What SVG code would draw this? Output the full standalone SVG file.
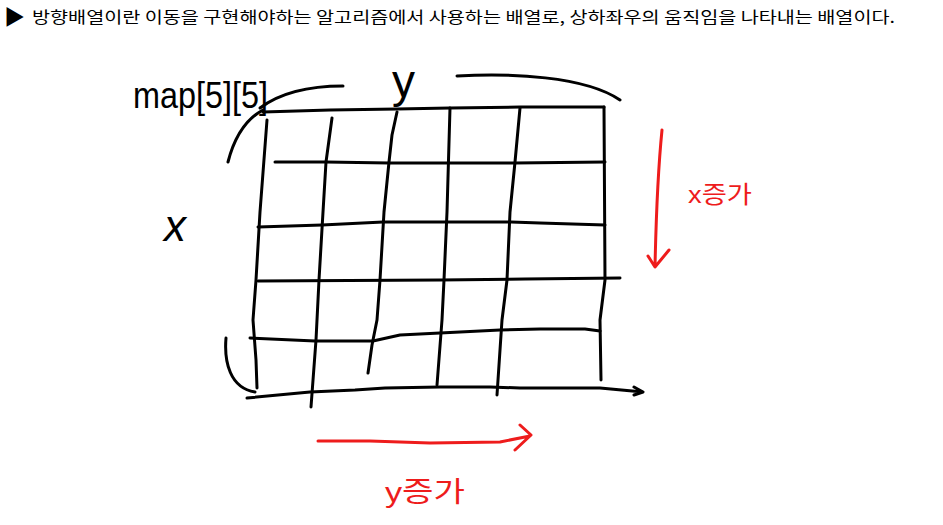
<svg xmlns="http://www.w3.org/2000/svg" width="943" height="525" viewBox="0 0 943 525">
<style>
.ink{fill:none;stroke:#000;stroke-width:3;stroke-linecap:round;stroke-linejoin:round}
.red{fill:none;stroke:#ee1c1c;stroke-width:3;stroke-linecap:round;stroke-linejoin:round}
.hdr{font-family:"Noto Sans CJK KR","Liberation Sans",sans-serif;font-size:16px;fill:#000}
.hand{font-family:"Liberation Sans","Noto Sans CJK KR",sans-serif;fill:#000}
.handr{font-family:"Liberation Sans","Noto Sans CJK KR",sans-serif;fill:#ee1c1c}
</style>
<rect width="943" height="525" fill="#fff"/>
<g id="header">
<text class="hdr" x="4" y="24" style="font-size:21px">▶</text>
<text class="hdr" x="32" y="23" textLength="863" lengthAdjust="spacingAndGlyphs">방향배열이란 이동을 구현해야하는 알고리즘에서 사용하는 배열로, 상하좌우의 움직임을 나타내는 배열이다.</text>
</g>
<g id="grid">
<path class="ink" d="M263,112 L330,110 L397,109 L450,108 L520,107 L604,107"/>
<path class="ink" d="M275,162 L326,162 L389,163 L447,163 L515,163 L605,162"/>
<path class="ink" d="M258,227 L322,225 L383,222 L447,222 L511,222 L540,223 L605,225"/>
<path class="ink" d="M258,281 L440,280 L525,279 L620,278"/>
<path class="ink" d="M250,338 L315,341 L373,341 L400,335 L440,333 L500,330 L540,329 L585,329 L600,331"/>
<path class="ink" d="M267,120 L260,212 L256,280 L253,320 L256,360 L257,388"/>
<path class="ink" d="M332,118 L326,162 L323,212 L319,280 L316,340 L311,407"/>
<path class="ink" d="M397,112 L392,135 L389,162 L384,212 L380,280 L377,320 L372,345 L368,373"/>
<path class="ink" d="M450,108 L447,212 L444,280 L442,320 L437,385"/>
<path class="ink" d="M520,108 L515,162 L510,212 L507,280 L502,320 L497,395"/>
<path class="ink" d="M604,107 L605,280 L600,320 L601,380"/>
</g>
<g id="brackets">
<path class="ink" d="M263,110 C248,118 235,135 228,162"/>
<path class="ink" d="M226,338 C224,362 230,388 255,392"/>
<path class="ink" d="M260,108 C280,93 310,86 343,86"/>
<path class="ink" d="M457,76 C510,73 585,76 620,100"/>
</g>
<g id="connectors">
<path class="ink" d="M247,398 L310,392 L355,390 L385,388 L440,387 L490,387 L520,388 L600,388 L643,392 M634,387 L643,392 L634,395"/>
<path class="red" d="M662,130 C658,170 656,220 655,267 M648,256 L655,267 L669,250"/>
<path class="red" d="M318,441 L370,441 L430,443 L500,442 L530,436 M520,425 L531,435 L515,450"/>
</g>
<g id="labels">
<text class="hand" x="133" y="108" font-size="36" textLength="135" lengthAdjust="spacingAndGlyphs">map[5][5]</text>
<text class="hand" x="392" y="97" font-size="46">y</text>
<text class="hand" x="164" y="241" font-size="44" font-style="italic" font-family="Liberation Serif, serif">x</text>
<text class="handr" x="688" y="203" font-size="24" textLength="64" lengthAdjust="spacingAndGlyphs">x증가</text>
<text class="handr" x="385" y="502" font-size="28" textLength="80" lengthAdjust="spacingAndGlyphs">y증가</text>
</g>
</svg>
